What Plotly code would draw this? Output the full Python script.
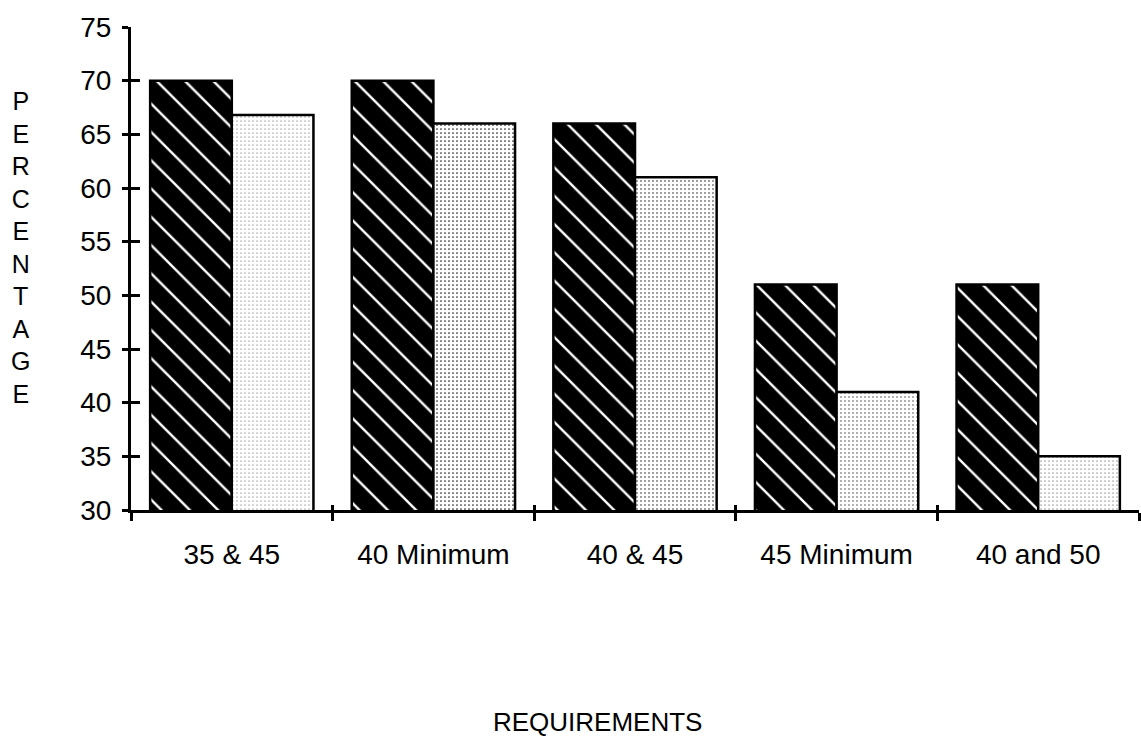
import plotly.graph_objects as go

# Requirement options and the two percentage series
categories = ["35 & 45", "40 Minimum", "40 & 45", "45 Minimum", "40 and 50"]
series_a = [70, 70, 66, 51, 51]
series_b = [66.8, 66, 61, 41, 35]
y_ticks = [30, 35, 40, 45, 50, 55, 60, 65, 70, 75]

# stipple density per bar for the second series
stipple_density = [0.05, 0.15, 0.13, 0.09, 0.06]

FONT = "Liberation Sans, Arial, Helvetica, sans-serif"

W, H = 1141, 737
ML, MR, MT, MB = 131, 2, 27, 227
plot_w = W - ML - MR
plot_h = H - MT - MB

fig = go.Figure()

fig.add_trace(go.Bar(
    x=categories, y=series_a,
    marker=dict(
        color="black",
        line=dict(color="black", width=2.5),
        pattern=dict(shape="\\", fgcolor="white", bgcolor="black", fgopacity=1,
                     size=20, solidity=0.12, fillmode="overlay"),
    ),
    showlegend=False,
))
fig.add_trace(go.Bar(
    x=categories, y=series_b,
    marker=dict(
        color="white",
        line=dict(color="black", width=2.5),
        pattern=dict(shape=".", fgcolor="black", bgcolor="white", fgopacity=0.85,
                     size=4, solidity=stipple_density, fillmode="overlay"),
    ),
    showlegend=False,
))

# empty trace that carries the overlay axes (inner half of the crossing ticks)
fig.add_trace(go.Scatter(x=[], y=[], xaxis="x2", yaxis="y2", showlegend=False))

n = len(categories)
fig.update_layout(
    width=W, height=H,
    margin=dict(l=ML, r=MR, t=MT, b=MB),
    paper_bgcolor="white", plot_bgcolor="white",
    barmode="group", bargap=0.19, bargroupgap=0,
    font=dict(family=FONT, color="black", size=28),
    xaxis=dict(
        type="category", range=[-0.5, n - 0.5],
        showline=True, linecolor="black", linewidth=3,
        ticks="outside", tickson="boundaries", ticklen=8, tickwidth=2.5, tickcolor="black",
        showgrid=False, zeroline=False,
        tickfont=dict(family=FONT, size=28), ticklabelstandoff=17,
    ),
    yaxis=dict(
        range=[30, 75], tickvals=y_ticks,
        showline=True, linecolor="black", linewidth=3,
        ticks="outside", ticklen=6, tickwidth=2.5, tickcolor="black",
        showgrid=False, zeroline=False,
        tickfont=dict(family=FONT, size=28), ticklabelstandoff=5,
    ),
    xaxis2=dict(
        overlaying="x", anchor="y2", range=[-0.5, n - 0.5],
        tickmode="linear", tick0=-0.5, dtick=1,
        ticks="inside", ticklen=5, tickwidth=2.5, tickcolor="black",
        showticklabels=False, showline=False, showgrid=False, zeroline=False,
    ),
    yaxis2=dict(
        overlaying="y", anchor="x2", range=[30, 75], tickvals=y_ticks,
        ticks="inside", ticklen=9, tickwidth=2.5, tickcolor="black",
        showticklabels=False, showline=False, showgrid=False, zeroline=False,
    ),
    annotations=[
        dict(text="<br>".join("PERCENTAGE"), xref="paper", yref="paper",
             x=(20 - ML) / plot_w, y=(H - MB - 247) / plot_h,
             xanchor="center", yanchor="middle", showarrow=False,
             font=dict(family=FONT, size=25)),
        dict(text="REQUIREMENTS", xref="paper", yref="paper",
             x=(597 - ML) / plot_w, y=(H - MB - 722) / plot_h,
             xanchor="center", yanchor="middle", showarrow=False,
             font=dict(family=FONT, size=26)),
    ],
)

fig.write_html("out.html")
